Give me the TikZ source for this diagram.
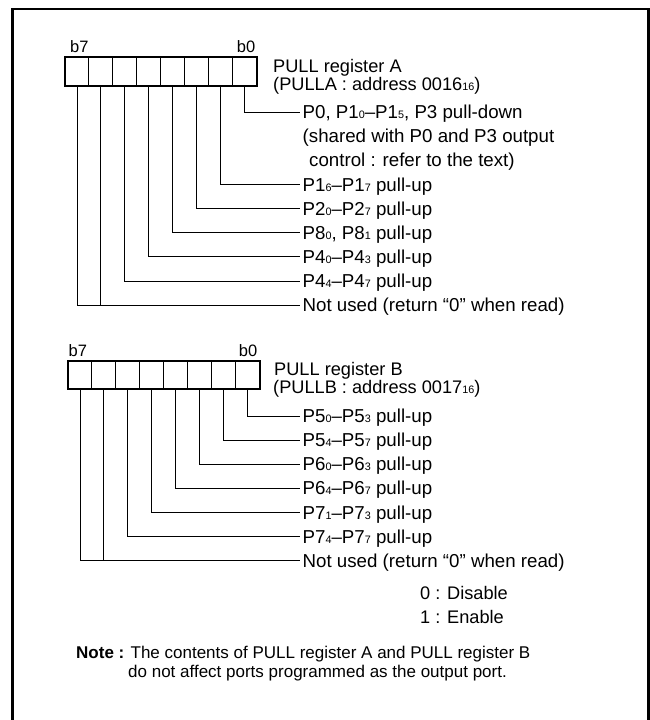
\documentclass[tikz,border=0pt]{standalone}
\usepackage{fontspec}
\setmainfont{Liberation Sans}
\newcommand{\lo}[1]{{\fontsize{10.8}{10}\selectfont #1}}

\begin{document}
\begin{tikzpicture}[x=1pt,y=1pt,
  cell/.style={draw, line width=0.9pt, minimum width=23.875pt, minimum height=27.5pt, inner sep=0pt},
  lbl/.style={anchor=west, inner xsep=2.5pt, inner ysep=0pt, text height=13.3pt, text depth=0pt, font=\fontsize{18.7}{18}\selectfont},
  txt/.style={anchor=base west, inner sep=0pt},
  notetxt/.style={anchor=base west, inner sep=0pt, font=\fontsize{17}{17}\selectfont},
  bitno/.style={inner sep=0pt, font=\fontsize{16.5}{16}\selectfont}]
\tikzstyle{every node}+=[font=\fontsize{18.2}{18}\selectfont]
\useasboundingbox (0,0) rectangle (650,-720);
\draw [line width=2.4pt] (12.5,-722) -- (12.5,-8.7) -- (648.5,-8.7) -- (648.5,-722);
% PULL register A
\node [cell] (a7) at (77,-71.5) {};
\node [cell] (a6) at (100.875,-71.5) {};
\node [cell] (a5) at (124.75,-71.5) {};
\node [cell] (a4) at (148.625,-71.5) {};
\node [cell] (a3) at (172.5,-71.5) {};
\node [cell] (a2) at (196.375,-71.5) {};
\node [cell] (a1) at (220.25,-71.5) {};
\node [cell] (a0) at (244.125,-71.5) {};
\draw [line width=2pt] (a7.north west) rectangle (a0.south east);
\node [bitno, anchor=base west] (a7n) at (70,-52) {b7};
\node [bitno, anchor=base east] (a0n) at (255.5,-52) {b0};
\node [txt] (ahd1) at (273,-72) {PULL register A};
\node [txt] (ahd2) at (273,-90) {(PULLA : address 0016\lo{16})};
\node [lbl] (ta0) at (300,-112) {P0, P1\lo{0}–P1\lo{5}, P3 pull-down};
\node [lbl] (ta0b) at (300,-136) {(shared with P0 and P3 output};
\node [lbl] (ta0c) at (306.5,-160) {control : refer to the text)};
\node [lbl] (ta1) at (300,-184.5) {P1\lo{6}–P1\lo{7} pull-up};
\node [lbl] (ta2) at (300,-208.5) {P2\lo{0}–P2\lo{7} pull-up};
\node [lbl] (ta3) at (300,-232.5) {P8\lo{0}, P8\lo{1} pull-up};
\node [lbl] (ta4) at (300,-256.5) {P4\lo{0}–P4\lo{3} pull-up};
\node [lbl] (ta5) at (300,-281) {P4\lo{4}–P4\lo{7} pull-up};
\node [lbl] (ta6) at (300,-305) {Not used (return “0” when read)};
\draw [line width=0.9pt] (a0.south) |- (ta0.west);
\draw [line width=0.9pt] (a1.south) |- (ta1.west);
\draw [line width=0.9pt] (a2.south) |- (ta2.west);
\draw [line width=0.9pt] (a3.south) |- (ta3.west);
\draw [line width=0.9pt] (a4.south) |- (ta4.west);
\draw [line width=0.9pt] (a5.south) |- (ta5.west);
\draw [line width=0.9pt] (a6.south) |- (ta6.west);
\draw [line width=0.9pt] (a7.south) |- (ta6.west);
% PULL register B
\node [cell] (b7) at (80,-375) {};
\node [cell] (b6) at (103.875,-375) {};
\node [cell] (b5) at (127.75,-375) {};
\node [cell] (b4) at (151.625,-375) {};
\node [cell] (b3) at (175.5,-375) {};
\node [cell] (b2) at (199.375,-375) {};
\node [cell] (b1) at (223.25,-375) {};
\node [cell] (b0) at (247.125,-375) {};
\draw [line width=2pt] (b7.north west) rectangle (b0.south east);
\node [bitno, anchor=base west] (b7n) at (68.5,-356) {b7};
\node [bitno, anchor=base east] (b0n) at (257.5,-356) {b0};
\node [txt] (bhd1) at (274,-375) {PULL register B};
\node [txt] (bhd2) at (273,-393) {(PULLB : address 0017\lo{16})};
\node [lbl] (tb0) at (300,-416) {P5\lo{0}–P5\lo{3} pull-up};
\node [lbl] (tb1) at (300,-440) {P5\lo{4}–P5\lo{7} pull-up};
\node [lbl] (tb2) at (300,-464) {P6\lo{0}–P6\lo{3} pull-up};
\node [lbl] (tb3) at (300,-488) {P6\lo{4}–P6\lo{7} pull-up};
\node [lbl] (tb4) at (300,-512.5) {P7\lo{1}–P7\lo{3} pull-up};
\node [lbl] (tb5) at (300,-536.5) {P7\lo{4}–P7\lo{7} pull-up};
\node [lbl] (tb6) at (300,-560.5) {Not used (return “0” when read)};
\draw [line width=0.9pt] (b0.south) |- (tb0.west);
\draw [line width=0.9pt] (b1.south) |- (tb1.west);
\draw [line width=0.9pt] (b2.south) |- (tb2.west);
\draw [line width=0.9pt] (b3.south) |- (tb3.west);
\draw [line width=0.9pt] (b4.south) |- (tb4.west);
\draw [line width=0.9pt] (b5.south) |- (tb5.west);
\draw [line width=0.9pt] (b6.south) |- (tb6.west);
\draw [line width=0.9pt] (b7.south) |- (tb6.west);
% legend and note
\node [txt] (dis) at (420,-599) {0 : Disable};
\node [txt] (ena) at (420,-623) {1 : Enable};
\node [notetxt] (note1) at (76,-658) {\textbf{Note :} The contents of PULL register A and PULL register B};
\node [notetxt] (note2) at (128,-677) {do not affect ports programmed as the output port.};
\end{tikzpicture}
\end{document}
